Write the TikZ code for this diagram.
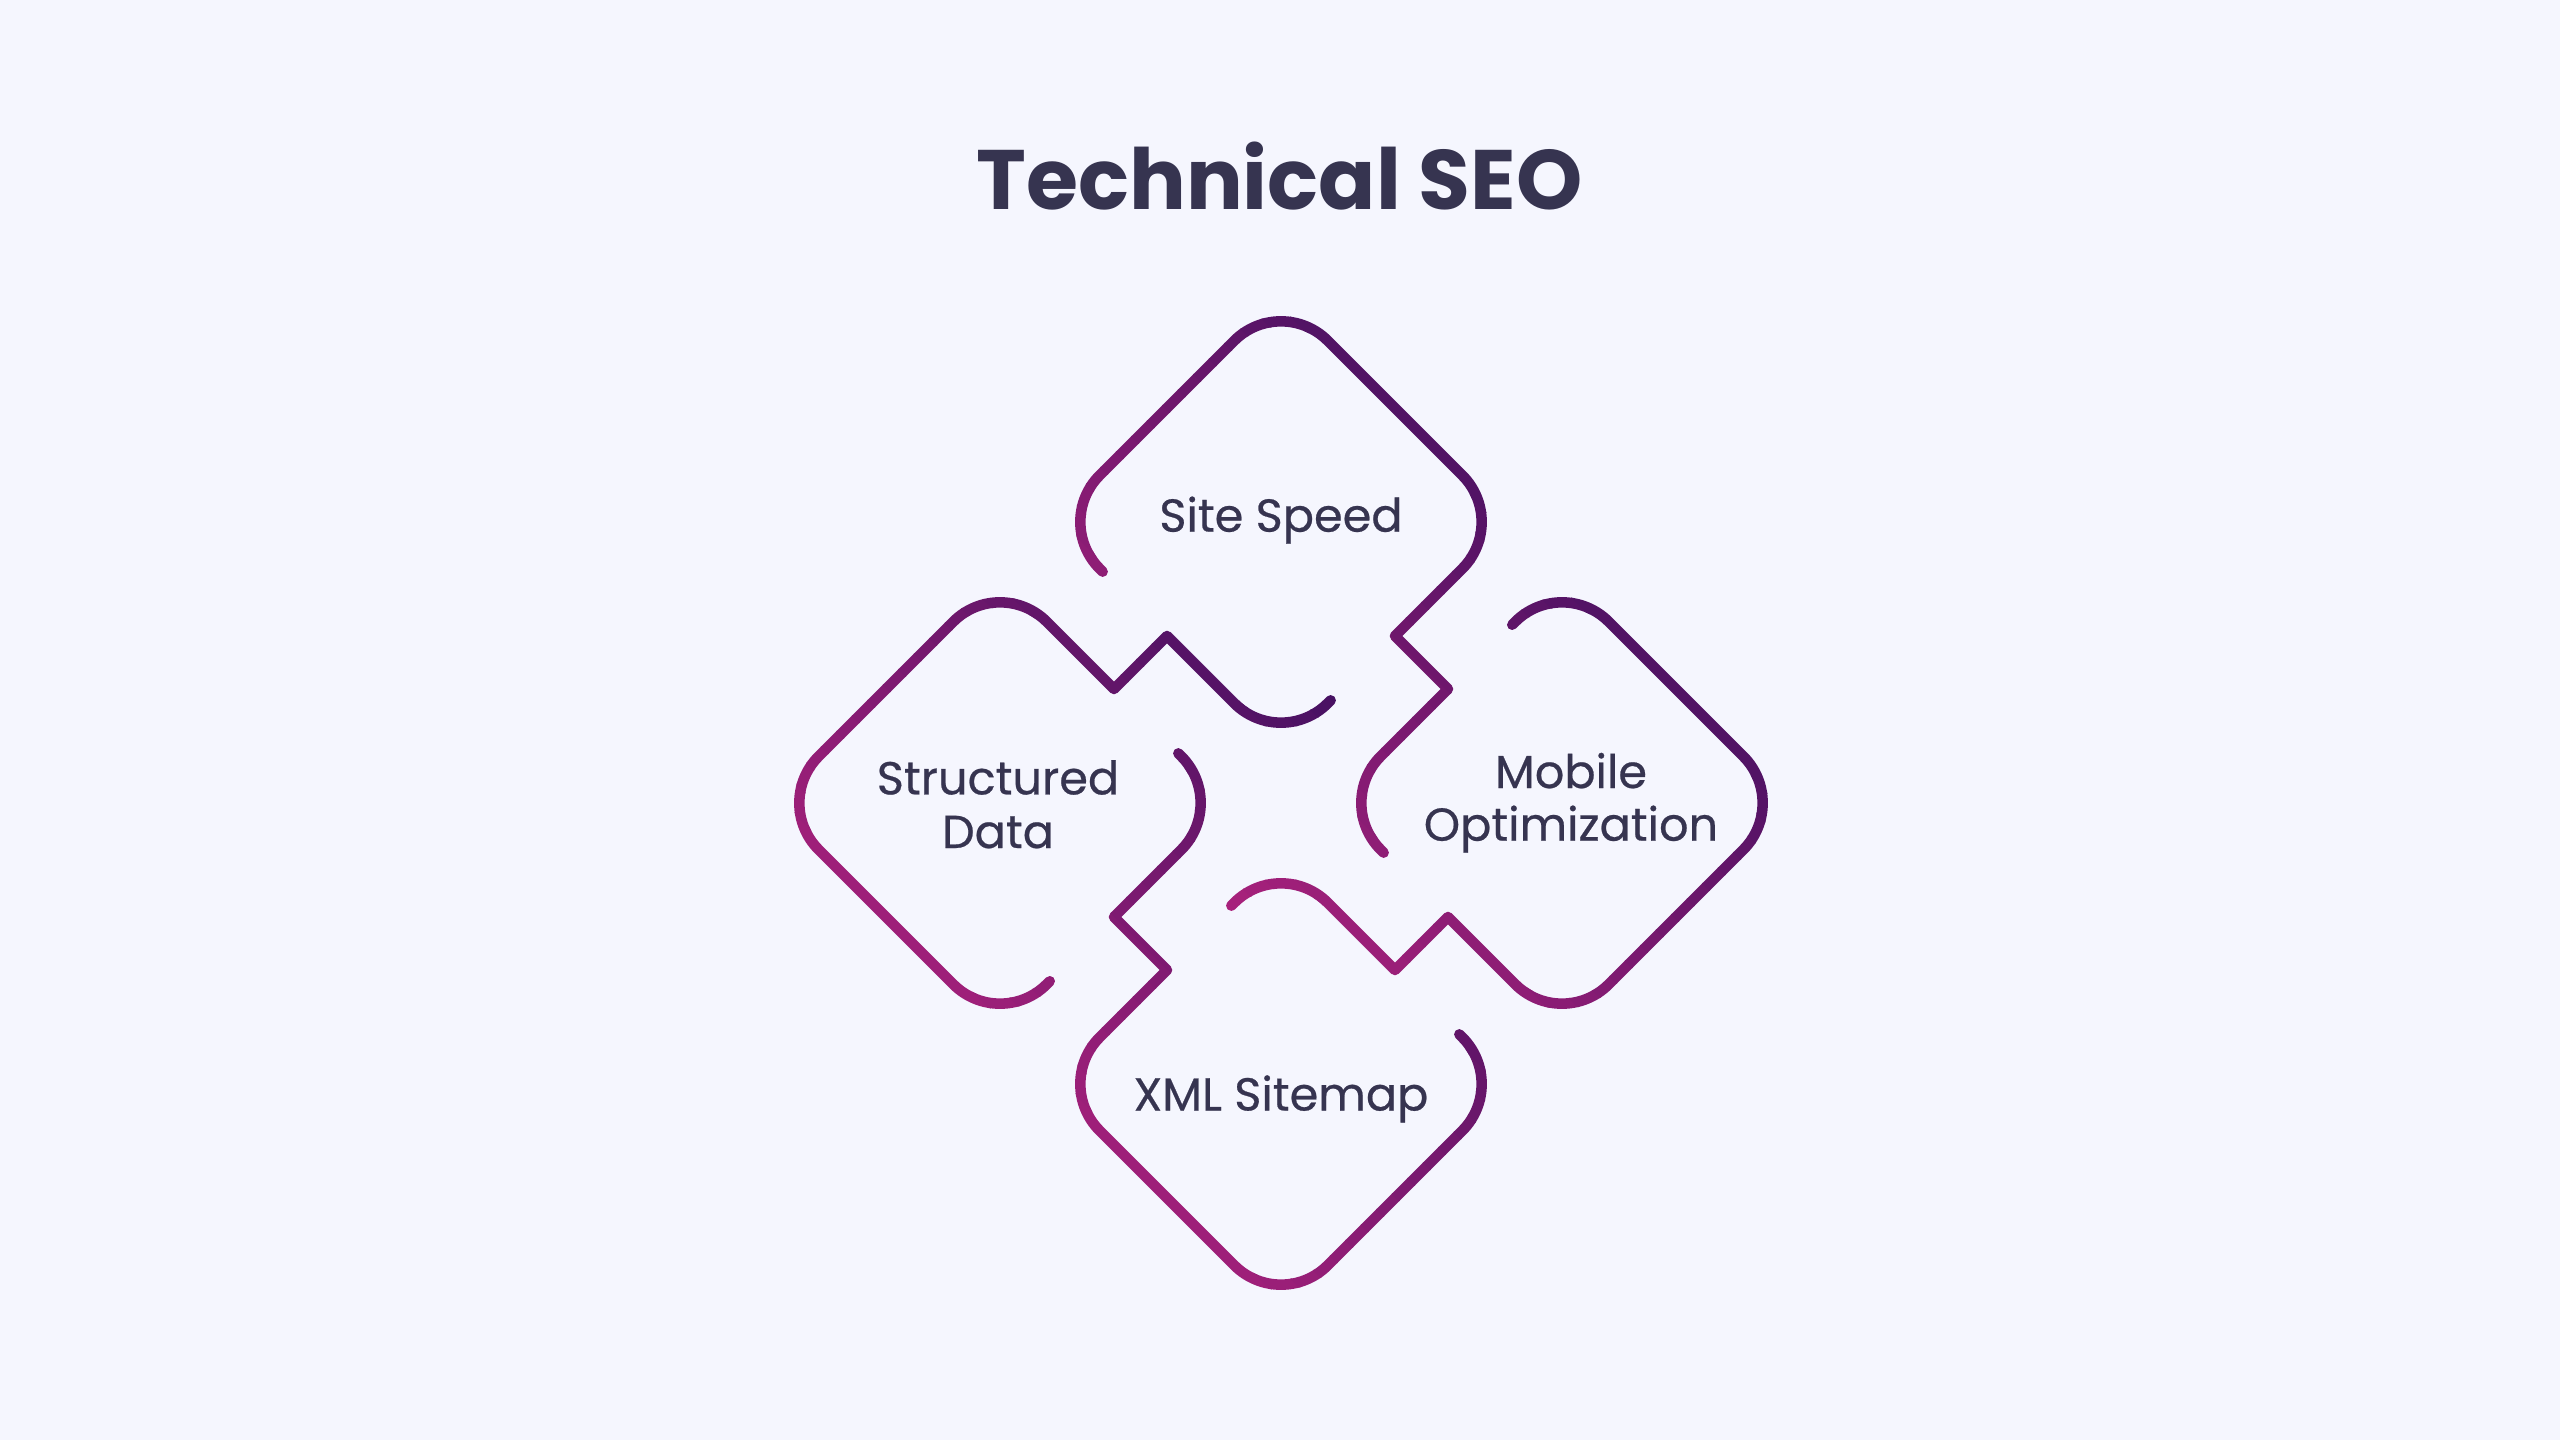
\documentclass[tikz,border=0pt]{standalone}
\usepackage{fontspec}
\setmainfont{Poppins}
\newfontfamily\tagfont{Poppins}[FakeBold=0.5]
\definecolor{seoBack}{HTML}{F5F6FE}
\definecolor{seoText}{HTML}{363450}
\definecolor{seoMagenta}{RGB}{180,35,127}
\definecolor{seoPurple}{RGB}{60,15,95}
\newcommand{\piecepath}{(-1.7833,2.3133) -- (-2.28,2.81) -- (0,5.09) -- (2.28,2.81) -- (1.14,1.67) (1.14,1.67) -- (1.67,1.14) (1.67,1.14) -- (0.53,0) -- (1.0267,-0.4967)}
\tikzset{
	pieceline/.style = {line width=3pt, line cap=round, line join=round, rounded corners=0.66cm},
	headline/.style = {font=\fontsize{24}{30}\selectfont\bfseries, text=seoText, inner sep=0pt},
	tagtext/.style = {font=\tagfont\fontsize{13.15}{16}\selectfont, text=seoText, inner sep=0pt}
}

\begin{document}
\begin{tikzpicture}
	\path[use as bounding box, fill=seoBack] (-12.81,-6.37) rectangle (12.79,8.03);
	\node[headline, anchor=base] (title) at (-0.015,5.93) {Technical SEO};
	\foreach \ang/\vlo/\vhi in {0/-2.474/6.824, 90/-6.824/2.474, -90/-2.474/6.824, 180/-6.824/2.474} {
		\foreach \i in {0,...,29} {
			\pgfmathsetmacro\va{\vlo+(\vhi-\vlo)*\i/30-0.01-(\i==0)}
			\pgfmathsetmacro\vb{\vlo+(\vhi-\vlo)*(\i+1)/30+0.01+(\i==29)}
			\pgfmathsetmacro\pct{100*(\i+0.5)/30}
			\begin{scope}
				\clip ({\va/2+6},{\va/2-6}) -- ({\va/2-6},{\va/2+6}) -- ({\vb/2-6},{\vb/2+6}) -- ({\vb/2+6},{\vb/2-6}) -- cycle;
				\draw[pieceline, draw=seoPurple!\pct!seoMagenta, rotate=\ang] \piecepath;
			\end{scope}
		}
	}
	\node[tagtext, anchor=base] (speed) at (0,2.713) {Site Speed};
	\node[tagtext, anchor=base] (mobile) at (2.90,0.15) {Mobile};
	\node[tagtext, anchor=base] (optim) at (2.90,-0.377) {Optimization};
	\node[tagtext, anchor=base] (structured) at (-2.83,0.086) {Structured};
	\node[tagtext, anchor=base] (data) at (-2.83,-0.45) {Data};
	\node[tagtext, anchor=base] (sitemap) at (0,-3.075) {XML Sitemap};
\end{tikzpicture}
\end{document}
